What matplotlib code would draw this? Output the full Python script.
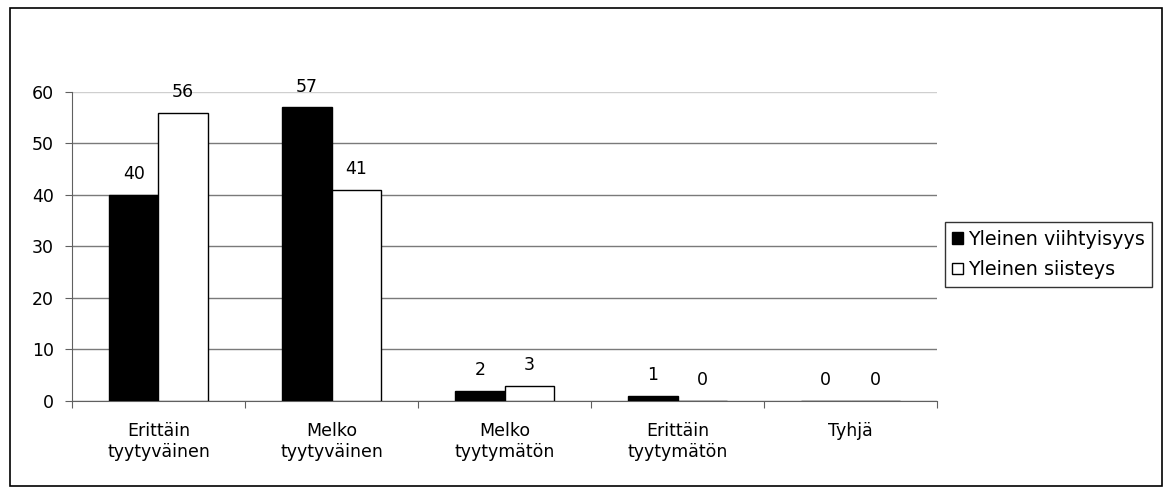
import numpy as np
import matplotlib
matplotlib.use("Agg")
import matplotlib.pyplot as plt
from matplotlib.patches import Rectangle

plt.rcParams['font.family'] = ['DejaVu Sans']

# Data
categories = ["Erittäin\ntyytyväinen", "Melko\ntyytyväinen", "Melko\ntyytymätön",
              "Erittäin\ntyytymätön", "Tyhjä"]
viihtyisyys = [40, 57, 2, 1, 0]
siisteys = [56, 41, 3, 0, 0]
series_names = ["Yleinen viihtyisyys", "Yleinen siisteys"]
y_ticks = [0, 10, 20, 30, 40, 50, 60]

FS = 12.5

fig = plt.figure(figsize=(11.65, 4.87), dpi=100)
ax = fig.add_axes([0.0618, 0.1766, 0.7425, 0.6345])

x = np.arange(len(categories))
w = 0.285
b1 = ax.bar(x - w / 2, viihtyisyys, w, color="black", edgecolor="black",
            linewidth=1, label=series_names[0], zorder=3)
b2 = ax.bar(x + w / 2, siisteys, w, color="white", edgecolor="black",
            linewidth=1, label=series_names[1], zorder=3)

for bars in (b1, b2):
    for r in bars:
        h = r.get_height()
        ax.annotate(str(int(h)), (r.get_x() + r.get_width() / 2, h),
                    xytext=(0, 8.5), textcoords="offset points",
                    ha="center", va="bottom", fontsize=FS, zorder=5)

ax.set_xlim(-0.5, len(categories) - 0.5)
ax.set_ylim(0, 60)
ax.set_yticks(y_ticks)
ax.set_yticklabels([str(t) for t in y_ticks], fontsize=FS)
ax.yaxis.grid(True, color="#7a7a7a", linewidth=1, zorder=0)
gl = ax.get_ygridlines()
gl[-1].set_color("#cfcfcf")
ax.set_axisbelow(True)

# category labels between boundary ticks
ax.set_xticks(np.arange(len(categories) + 1) - 0.5)
ax.set_xticklabels([])
ax.set_xticks(x, minor=True)
ax.set_xticklabels(categories, minor=True, fontsize=FS, linespacing=1.25)
ax.tick_params(axis="x", which="minor", length=0, pad=15)
ax.tick_params(axis="x", which="major", length=5, color="#606060", direction="out")
ax.tick_params(axis="y", length=5, color="#606060", pad=8)

for s in ["top", "right"]:
    ax.spines[s].set_visible(False)
ax.spines["left"].set_color("#606060")
ax.spines["bottom"].set_color("#606060")

leg = ax.legend(loc="center left", bbox_to_anchor=(1.009, 0.474), fontsize=13.8,
                frameon=True, fancybox=False, edgecolor="black",
                handlelength=0.55, handleheight=0.55, handletextpad=0.25,
                borderpad=0.4, labelspacing=0.6, borderaxespad=0)
leg.get_frame().set_linewidth(1)

fig.patches.append(Rectangle((10 / 1165, 1 / 487), 1152 / 1165, 478 / 487,
                             transform=fig.transFigure, fill=False,
                             edgecolor="black", linewidth=1.2))

fig.savefig("out.png", dpi=100)
